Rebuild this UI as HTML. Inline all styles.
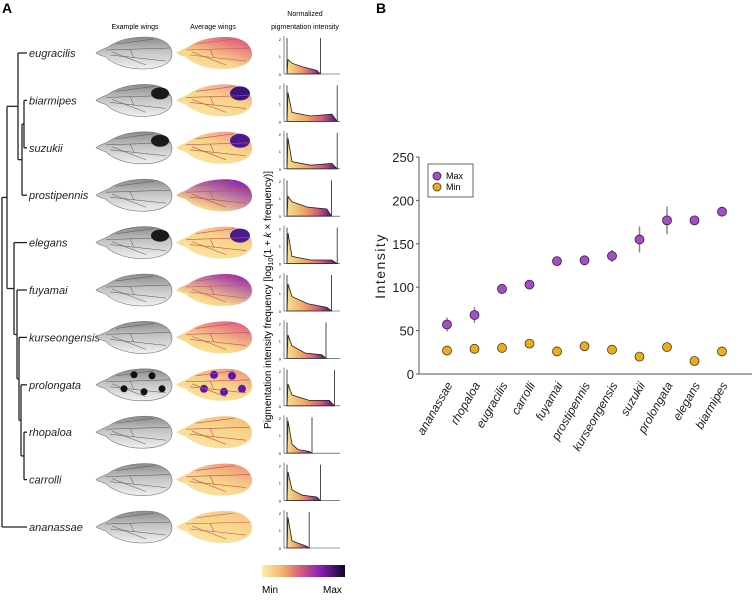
<!DOCTYPE html>
<html><head><meta charset="utf-8"><style>
html,body{margin:0;padding:0;background:#fff;}
body{width:752px;height:598px;overflow:hidden;font-family:"Liberation Sans",sans-serif;}
svg text{font-family:"Liberation Sans",sans-serif;}
</style></head><body>
<svg id="fig" width="752" height="598" viewBox="0 0 752 598">
<defs>
  <linearGradient id="gray" x1="0" y1="0" x2="0" y2="1">
    <stop offset="0" stop-color="#8a8a8a"/><stop offset="0.45" stop-color="#c4c4c4"/><stop offset="1" stop-color="#f0f0f0"/>
  </linearGradient>
  <linearGradient id="cbar" x1="0" y1="0" x2="1" y2="0">
    <stop offset="0" stop-color="#fbeeb0"/><stop offset="0.25" stop-color="#f2b26a"/><stop offset="0.45" stop-color="#dd5f7a"/><stop offset="0.7" stop-color="#8a1fb8"/><stop offset="1" stop-color="#0d0828"/>
  </linearGradient>
  <linearGradient id="hist" x1="0" y1="0" x2="1" y2="0">
    <stop offset="0" stop-color="#f7e08f"/><stop offset="0.4" stop-color="#f0a266"/><stop offset="0.7" stop-color="#d45a7a"/><stop offset="1" stop-color="#4a1588"/>
  </linearGradient>
</defs>
<text x="2" y="13" font-size="14" font-weight="bold">A</text>
<text x="376" y="13" font-size="14" font-weight="bold">B</text>
<text x="135" y="29" font-size="7" text-anchor="middle">Example wings</text>
<text x="213" y="29" font-size="7" text-anchor="middle">Average wings</text>
<text x="305" y="16" font-size="7" text-anchor="middle">Normalized</text>
<text x="305" y="29" font-size="7" text-anchor="middle">pigmentation intensity</text>
<text transform="translate(271,300) rotate(-90)" font-size="10" text-anchor="middle">Pigmentation intensity frequency [log<tspan font-size="7" dy="2">10</tspan><tspan dy="-2">(1 + </tspan><tspan font-style="italic">k</tspan> × frequency)]</text>
<g id="tree"></g>
<g id="rows"></g>
<rect x="262" y="565" width="83" height="12" fill="url(#cbar)"/>
<text x="262" y="593" font-size="10">Min</text>
<text x="323" y="593" font-size="10">Max</text>
<g id="chartB"></g>
</svg>
<script>
// ---- Panel B data ----
const categories = ["ananassae","rhopaloa","eugracilis","carrolli","fuyamai","prostipennis","kurseongensis","suzukii","prolongata","elegans","biarmipes"];
const maxValues = [57,68,98,103,130,131,136,155,177,177,187];
const maxErrors = [8,9,0,0,3,3,7,15,16,0,0];
const minValues = [27,29,30,35,26,32,28,20,31,15,26];
const yTicks = [0,50,100,150,200,250];

const NS = "http://www.w3.org/2000/svg";
function mk(tag, attrs, parent){ const e=document.createElementNS(NS,tag); for(const k in attrs) e.setAttribute(k,attrs[k]); if(parent) parent.appendChild(e); return e; }

// ---- Panel B ----
const B = document.getElementById('chartB');
const y0 = 374, yPerUnit = 217/250;
const yScale = v => y0 - v*yPerUnit;
const xScale = i => 447 + i*27.5;
let ax = mk('line',{x1:419,y1:y0,x2:752,y2:y0,stroke:'#555','stroke-width':1},B);


let ay = mk('line',{x1:419,y1:yScale(0),x2:419,y2:yScale(250),stroke:'#555','stroke-width':1},B);


yTicks.forEach(t=>{
  const tk = mk('line',{x1:416,y1:yScale(t),x2:419,y2:yScale(t),stroke:'#555'},B);
  
  
  const tl = mk('text',{x:414,y:yScale(t)+5,'font-size':13,'text-anchor':'end',fill:'#222'},B);
  tl.textContent = t;
  
  
});
const yt = mk('text',{transform:'translate(385,266) rotate(-90)','font-size':14,'text-anchor':'middle','letter-spacing':'1.5',fill:'#222'},B);
yt.textContent='Intensity';


categories.forEach((c,i)=>{
  const x=xScale(i);
  const lb = mk('text',{transform:`translate(${x+6},${y0+11}) rotate(-60)`,'font-size':12,'font-style':'italic','text-anchor':'end',fill:'#222'},B);
  lb.textContent=c;
  
  
  if(maxErrors[i]>0){
    const eb = mk('line',{x1:x,x2:x,y1:yScale(maxValues[i]+maxErrors[i]),y2:yScale(maxValues[i]-maxErrors[i]),stroke:'#888','stroke-width':1.5},B);
    
    
  }
  const pm = mk('circle',{cx:x,cy:yScale(maxValues[i]),r:4.5,fill:'#a24fc2',stroke:'#3a1a44','stroke-width':0.8},B);
  
  
  const pn = mk('circle',{cx:x,cy:yScale(minValues[i]),r:4.5,fill:'#e8ad22',stroke:'#4a3a10','stroke-width':0.8},B);
  
  
});
const lg = mk('g',{},B);


mk('rect',{x:428,y:164,width:45,height:33,fill:'#fff',stroke:'#444','stroke-width':0.8},lg);
mk('circle',{cx:437,cy:176,r:4,fill:'#a24fc2',stroke:'#3a1a44','stroke-width':0.8},lg);
mk('circle',{cx:437,cy:187,r:4,fill:'#e8ad22',stroke:'#4a3a10','stroke-width':0.8},lg);
let t1=mk('text',{x:446,y:179,'font-size':9},lg); t1.textContent='Max';


let t2=mk('text',{x:446,y:190,'font-size':9},lg); t2.textContent='Min';



// ---- Panel A ----
const species = ["eugracilis","biarmipes","suzukii","prostipennis","elegans","fuyamai","kurseongensis","prolongata","rhopaloa","carrolli","ananassae"];
const rowY = i => 53 + i*47.4;
const T = document.getElementById('tree');
function seg(x1,y1,x2,y2){ mk('line',{x1,y1,x2,y2,stroke:'#222','stroke-width':1.3},T); }
const L = 27;
function node(x, ya, yb, xa, xb){ seg(x,ya,x,yb); seg(x,ya,xa,ya); seg(x,yb,xb,yb); }
const Y = species.map((s,i)=>rowY(i));
const bs=(Y[1]+Y[2])/2, g1b=(bs+Y[3])/2, g1=(Y[0]+g1b)/2;
node(24,Y[1],Y[2],L,L); node(22,bs,Y[3],24,L); node(18,Y[0],g1b,L,22);
const rc=(Y[8]+Y[9])/2, p=(Y[7]+rc)/2, k=(Y[6]+p)/2, f=(Y[5]+k)/2, g2=(Y[4]+f)/2;
node(24,Y[8],Y[9],L,L); node(21,Y[7],rc,L,24); node(19,Y[6],p,L,21); node(17,Y[5],k,L,19); node(14,Y[4],f,L,17);
const A=(g1+g2)/2; node(7,g1,g2,18,14);
node(2,A,Y[10],7,L);

const avgStyle = {
 eugracilis:['#e0607a',0.55,null], biarmipes:['#f0a090',0.35,'#3a1580'], suzukii:['#f0a090',0.35,'#4a1a90'],
 prostipennis:['#8a2ab0',0.75,null], elegans:['#f0b088',0.3,'#4a1a90'], fuyamai:['#a035a8',0.65,null],
 kurseongensis:['#e06a80',0.55,null], prolongata:['#f0a080',0.4,'multi'], rhopaloa:['#f4c080',0.3,null],
 carrolli:['#ee9a7a',0.45,null], ananassae:['#f5c888',0.25,null]
};
const histPeaks = [[0.8,0.6,0.4,0.2],[1.6,0.5,0.3,0.4],[1.7,0.4,0.2,0.3],[1.1,0.8,0.5,0.4],[1.7,0.4,0.2,0.2],[1.5,0.8,0.4,0.2],[1.3,0.7,0.3,0.2],[1.2,0.6,0.3,0.3],[1.8,0.5,0.2,0.1],[1.6,0.6,0.3,0.2],[1.7,0.4,0.3,0.1]];
const histEnds = [0.65,0.95,0.95,0.85,0.95,0.85,0.75,0.9,0.5,0.65,0.45];

const R = document.getElementById('rows');
const wingPath = "M0,0 C4,-3 8,-4 12,-6 C22,-13 34,-16 50,-16 C67,-16 76,-8 76,1 C76,10 65,16 46,16 C28,16 14,9 10,4 C6,3 3,2 0,0 Z";
const veins = ['M10,-3 L74,-5','M14,2 L70,8','M20,-9 L58,-14','M34,-4 L38,5','M16,-1 L50,12'];
species.forEach((s,i)=>{
  const y=Y[i];
  const lbl = mk('text',{x:L+2,y:y+4,'font-size':11,'font-style':'italic',fill:'#222'},R);
  lbl.textContent=s;
  
  
  const g = mk('g',{transform:`translate(96,${y})`},R);
  
  
  mk('path',{d:wingPath,fill:'url(#gray)',stroke:'#777','stroke-width':0.6},g);
  veins.forEach(d=>mk('path',{d,stroke:'#555','stroke-width':0.5,fill:'none'},g));
  const st=avgStyle[s];
  if(st[2] && st[2]!=='multi') mk('ellipse',{cx:64,cy:-7,rx:9,ry:6,fill:'#1a1a1a'},g);
  if(st[2]==='multi'){ [[38,-10],[56,-9],[48,7],[28,4],[66,4]].forEach(c=>mk('circle',{cx:c[0],cy:c[1],r:3.5,fill:'#111'},g)); }
  const ga = mk('g',{transform:`translate(176,${y})`},R);
  
  
  const gid='ag'+i;
  const lgd=mk('linearGradient',{id:gid,x1:'0',y1:'1',x2:'0.7',y2:'0'},ga);
  mk('stop',{offset:'0','stop-color':'#fbe8a6'},lgd);
  mk('stop',{offset:String(1-st[1]),'stop-color':'#f8d48a'},lgd);
  mk('stop',{offset:'1','stop-color':st[0]},lgd);
  mk('path',{d:wingPath,fill:`url(#${gid})`},ga);
  if(st[2] && st[2]!=='multi') mk('ellipse',{cx:64,cy:-7,rx:10,ry:7,fill:st[2]},ga);
  if(st[2]==='multi'){ [[38,-10],[56,-9],[48,7],[28,4],[66,4]].forEach(c=>mk('circle',{cx:c[0],cy:c[1],r:4,fill:'#5a1ab0'},ga)); }
  veins.forEach(d=>mk('path',{d,stroke:'#c05050','stroke-width':0.6,fill:'none'},ga));
  const gh = mk('g',{transform:`translate(284,${y})`},R);
  
  
  const base=21, sc=18, w=56, pk=histPeaks[i], e=histEnds[i]*w;
  const pts=[[3,base],[4,base-pk[0]*sc],[8,base-pk[1]*sc],[e*0.5,base-pk[2]*sc],[e*0.9,base-pk[3]*sc],[e,base]];
  let d='M'+pts.map(p=>p.join(',')).join(' L')+' Z';
  mk('path',{d,fill:'url(#hist)',stroke:'#222','stroke-width':0.8},gh);
  mk('line',{x1:0,y1:-17,x2:0,y2:base,stroke:'#333','stroke-width':0.6},gh);
  mk('line',{x1:0,y1:base,x2:w,y2:base,stroke:'#333','stroke-width':0.6},gh);
  mk('line',{x1:3,y1:-15,x2:3,y2:base,stroke:'#222','stroke-width':0.8},gh);
  mk('line',{x1:e,y1:-15,x2:e,y2:base,stroke:'#222','stroke-width':0.8},gh);
  [['2',-14],['1',3],['0',base]].forEach(t=>{ const tx=mk('text',{x:-3,y:t[1]+2,'font-size':4,'text-anchor':'end'},gh); tx.textContent=t[0]; });
});
</script>
</body></html>
